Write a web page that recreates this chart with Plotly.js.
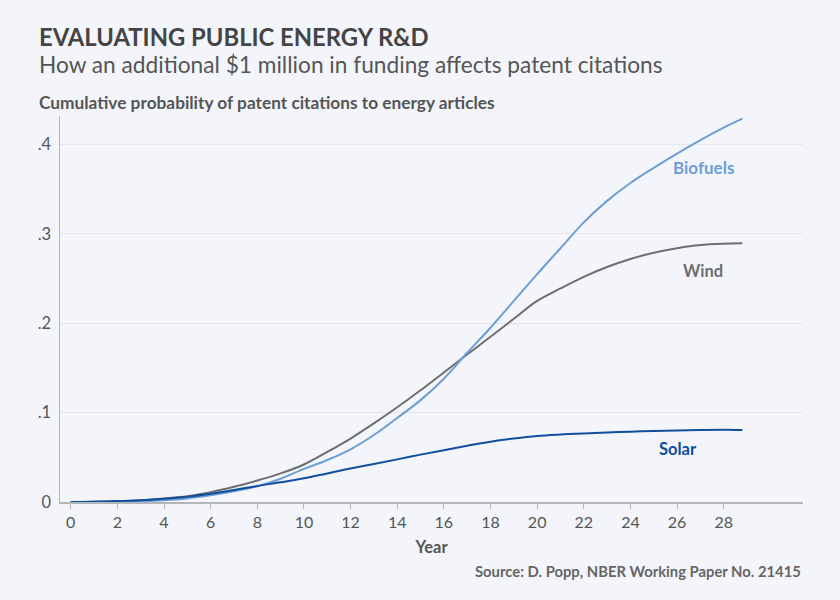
<!DOCTYPE html>
<html>
<head>
<meta charset="utf-8">
<script src="https://cdn.plot.ly/plotly-3.0.1.min.js"></script>
<style>
html,body{margin:0;padding:0;background:#f3f5fa;}
#chart{width:840px;height:600px;}
</style>
</head>
<body>
<div id="chart"></div>
<script>
const years = [0,1,2,3,4,5,6,7,8,9,10,11,12,13,14,15,16,17,18,19,20,21,22,23,24,25,26,27,28,28.8];
const biofuels = [0,0.0002,0.0005,0.001,0.002,0.004,0.0075,0.012,0.0175,0.026,0.037,0.047,0.059,0.075,0.094,0.114,0.138,0.167,0.195,0.225,0.255,0.284,0.313,0.337,0.357,0.374,0.390,0.405,0.419,0.429];
const wind = [0,0.0003,0.001,0.002,0.004,0.0065,0.011,0.017,0.024,0.032,0.042,0.056,0.071,0.088,0.106,0.125,0.145,0.165,0.185,0.205,0.225,0.239,0.252,0.263,0.272,0.279,0.284,0.2875,0.289,0.2895];
const solar = [0,0.0003,0.001,0.002,0.0037,0.006,0.0093,0.0135,0.018,0.022,0.0265,0.032,0.0375,0.0425,0.0477,0.053,0.058,0.063,0.0675,0.071,0.0738,0.0755,0.0768,0.0778,0.0787,0.0795,0.080,0.0805,0.0808,0.0805];
const seriesNames = ["Biofuels","Wind","Solar"];
const xTicks = [0,2,4,6,8,10,12,14,16,18,20,22,24,26,28];
const yTickVals = [0,0.1,0.2,0.3,0.4];
const yTickText = ["0",".1",".2",".3",".4"];
const titleText = "EVALUATING PUBLIC ENERGY R&amp;D";
const subtitleText = "How an additional $1 million in funding affects patent citations";
const yTitleText = "Cumulative probability of patent citations to energy articles";
const xTitleText = "Year";
const sourceText = "Source: D. Popp, NBER Working Paper No. 21415";

const FONT = "'Source Sans Pro', Lato, 'Open Sans', sans-serif";
const colors = {Biofuels:"#6b9fd6", Wind:"#6e6e70", Solar:"#0e4f9e"};

const traces = [
  {x: years, y: wind, name: seriesNames[1], mode:"lines", line:{color:colors.Wind, width:2, shape:"spline", smoothing:1}},
  {x: years, y: biofuels, name: seriesNames[0], mode:"lines", line:{color:colors.Biofuels, width:2, shape:"spline", smoothing:1}},
  {x: years, y: solar, name: seriesNames[2], mode:"lines", line:{color:colors.Solar, width:2, shape:"spline", smoothing:1}}
];

const layout = {
  width: 840, height: 600,
  paper_bgcolor: "#f3f5fa", plot_bgcolor: "#f3f5fa",
  showlegend: false,
  margin: {l:60, r:37, t:116, b:98},
  font: {family: FONT, color:"#555"},
  xaxis: {
    range: [-0.46, 31.4], tickvals: xTicks, showgrid:false, zeroline:false,
    showline:true, linecolor:"#b4b6ba", linewidth:2,
    ticks:"outside", ticklen:5, tickcolor:"#b4b6ba", tickwidth:1,
    tickfont:{size:16, color:"#555", family:FONT},
    title:{text: "<b>"+xTitleText+"</b>", font:{size:16.5, color:"#555", family:FONT}, standoff:11}
  },
  yaxis: {
    range: [0, 0.432], tickvals: yTickVals, ticktext: yTickText,
    showgrid:true, gridcolor:"#e4e6eb", gridwidth:1, zeroline:false,
    showline:true, linecolor:"#b4b6ba", linewidth:1.5, ticks:"",
    tickfont:{size:16.5, color:"#555", family:FONT}, ticklabelstandoff:4
  },
  annotations: [
    {xref:"paper", yref:"paper", x:-0.031, y:1.2047, xanchor:"left", yanchor:"middle", showarrow:false,
     text:"<b>"+titleText+"</b>", font:{size:23.8, color:"#444", family:FONT}},
    {xref:"paper", yref:"paper", x:-0.031, y:1.133, xanchor:"left", yanchor:"middle", showarrow:false,
     text:subtitleText, font:{size:22.7, color:"#555", family:FONT}},
    {xref:"paper", yref:"paper", x:-0.031, y:1.035, xanchor:"left", yanchor:"middle", showarrow:false,
     text:"<b>"+yTitleText+"</b>", font:{size:17.3, color:"#555", family:FONT}},
    {xref:"paper", yref:"paper", x:1, y:-0.18, xanchor:"right", yanchor:"middle", showarrow:false,
     text:"<b>"+sourceText+"</b>", font:{size:14.8, color:"#666", family:FONT}},
    {x:27.14, y:0.3747, xanchor:"center", yanchor:"middle", showarrow:false,
     text:"<b>"+seriesNames[0]+"</b>", font:{size:17, color:colors.Biofuels, family:FONT}},
    {x:27.1, y:0.258, xanchor:"center", yanchor:"middle", showarrow:false,
     text:"<b>"+seriesNames[1]+"</b>", font:{size:16.5, color:colors.Wind, family:FONT}},
    {x:26.06, y:0.059, xanchor:"center", yanchor:"middle", showarrow:false,
     text:"<b>"+seriesNames[2]+"</b>", font:{size:16.5, color:colors.Solar, family:FONT}}
  ]
};

Plotly.newPlot("chart", traces, layout, {displayModeBar:false, staticPlot:true});
</script>
</body>
</html>
